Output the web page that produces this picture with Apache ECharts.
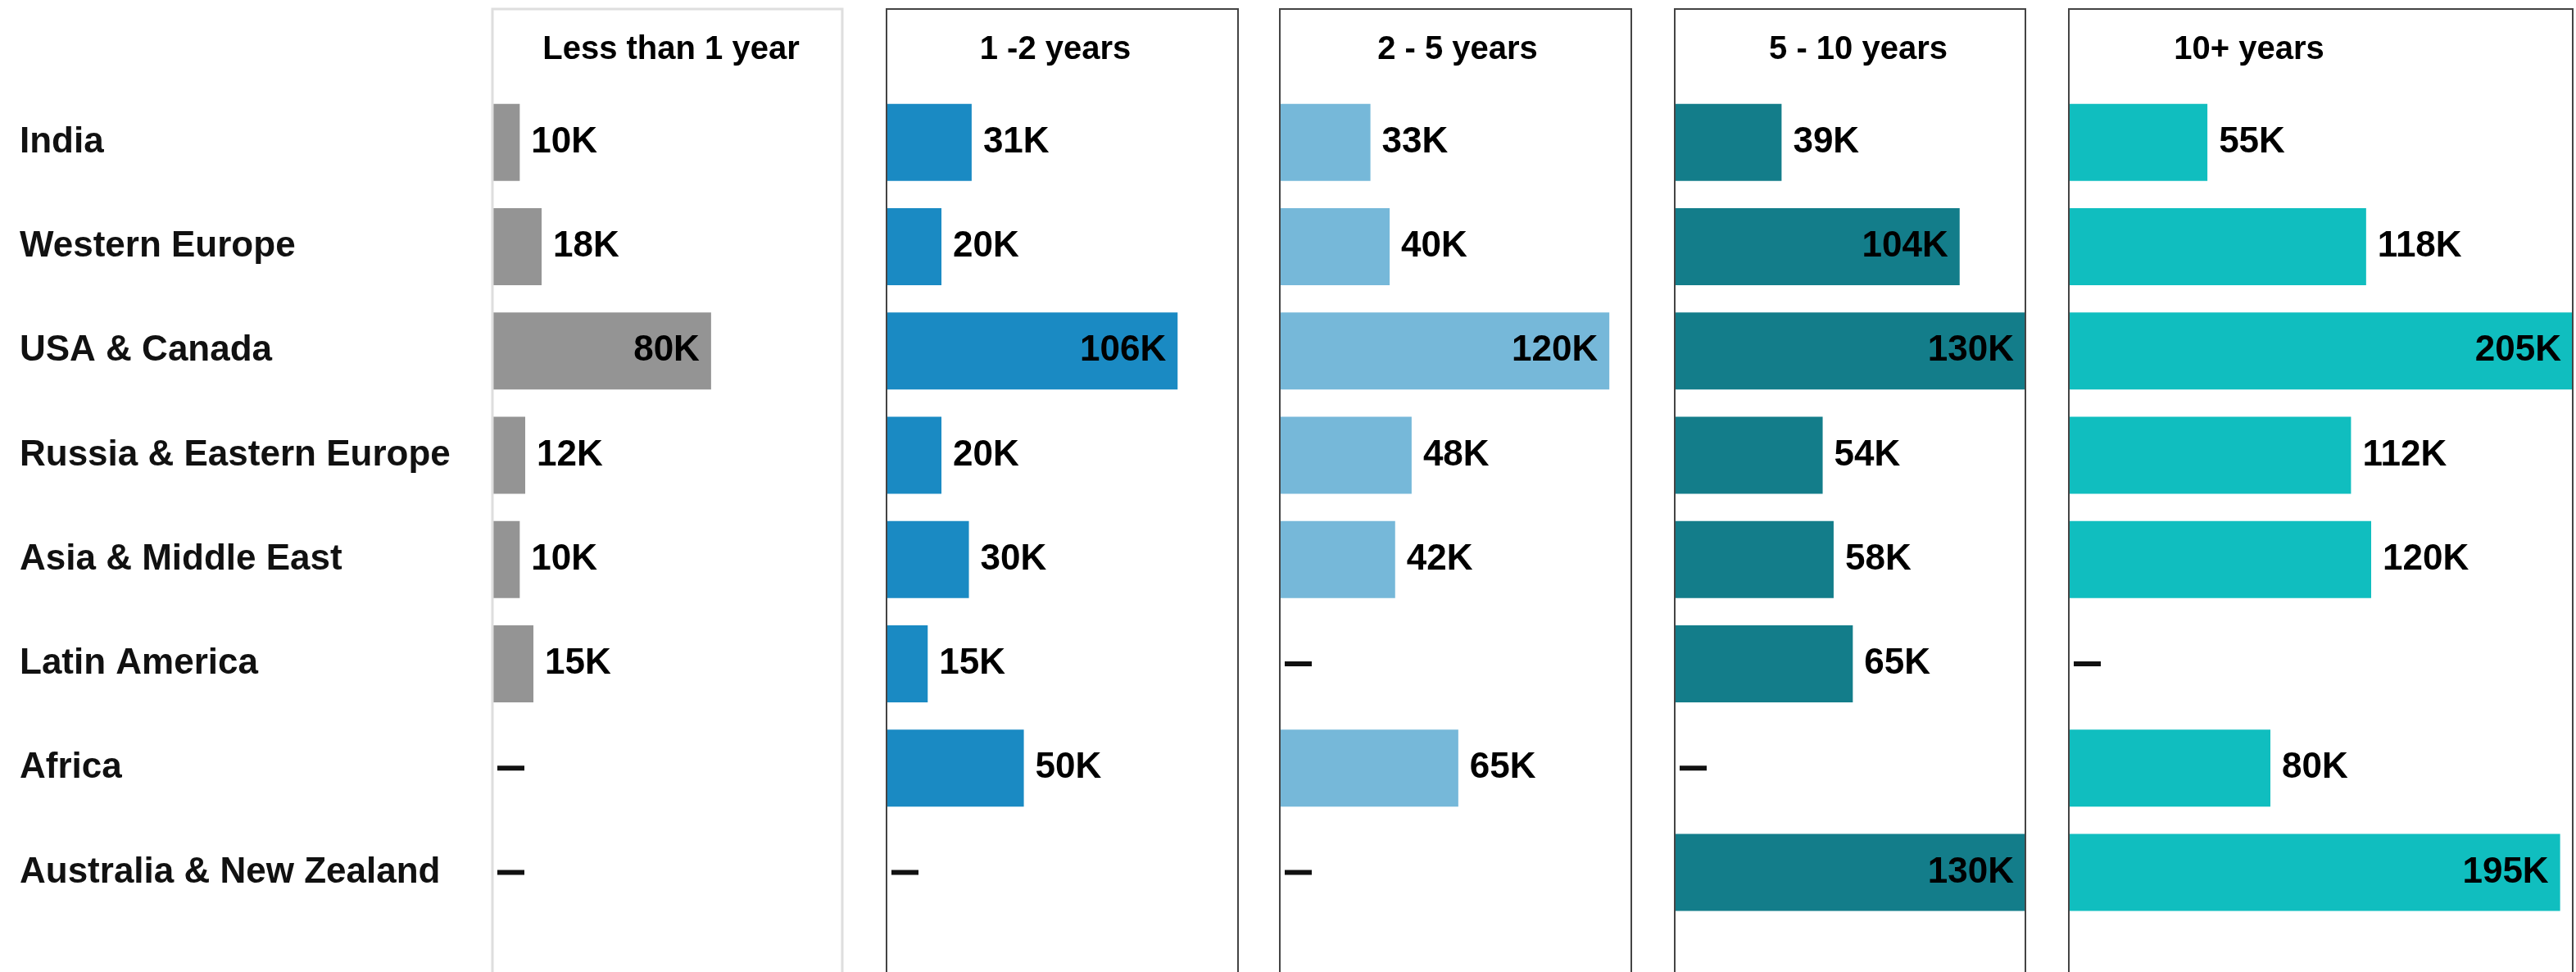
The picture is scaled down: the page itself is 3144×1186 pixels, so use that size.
<!DOCTYPE html>
<html>
<head>
<meta charset="utf-8">
<script src="https://cdn.jsdelivr.net/npm/echarts@6/dist/echarts.min.js"></script>
<style>
	html, body { margin: 0; padding: 0; background: #fff; }
	#chart { width: 3144px; height: 1186px; }
</style>
</head>
<body>
<div id="chart"></div>
<script>
	// regions, top to bottom
	const regions = ['India', 'Western Europe', 'USA & Canada', 'Russia & Eastern Europe',
		'Asia & Middle East', 'Latin America', 'Africa', 'Australia & New Zealand'];
	const panelTitles = ['Less than 1 year', '1 -2 years', '2 - 5 years', '5 - 10 years', '10+ years'];
	// values in thousands, null = no figure (shown as a dash)
	const lessThan1 = [10, 18, 80, 12, 10, 15, null, null];
	const years1to2 = [31, 20, 106, 20, 30, 15, 50, null];
	const years2to5 = [33, 40, 120, 48, 42, null, 65, null];
	const years5to10 = [39, 104, 130, 54, 58, 65, null, 130];
	const years10plus = [55, 118, 205, 112, 120, null, 80, 195];
	// axis max of each panel (thousands)
	const panelMax = [128, 128, 128, 128, 200];

	const seriesData = [lessThan1, years1to2, years2to5, years5to10, years10plus];
	const colors = ['#949494', '#1a8ac3', '#76b8d9', '#137d8a', '#10bebf'];
	const panels = [[601, 1028], [1082, 1511], [1562, 1991], [2044, 2472], [2525, 3140]];
	const titleX = [819, 1288, 1779, 2268, 2745];
	const font = '"Liberation Sans", Arial, Helvetica, sans-serif';

	const chart = echarts.init(document.getElementById('chart'));

	let grids = [], xAxes = [], yAxes = [], series = [], graphics = [];
	panels.forEach((p, i) => {
		grids.push({ left: p[0], width: p[1] - p[0], top: 110, height: 1018, outerBoundsMode: 'none' });
		xAxes.push({ type: 'value', gridIndex: i, min: 0, max: panelMax[i], show: false });
		yAxes.push({
			type: 'category', gridIndex: i, data: regions, inverse: true,
			axisLine: { show: false }, axisTick: { show: false }, splitLine: { show: false },
			axisLabel: {
				show: i === 0, align: 'left', margin: p[0] - 24,
				fontSize: 44, fontWeight: 'bold', color: '#111', fontFamily: font
			}
		});
		// missing values get a short dash, big bars get the label inside
		let data = seriesData[i].map(v => {
			if (v === null) {
				return {
					value: 0,
					label: { position: 'right', distance: 6, formatter: '{d|}' }
				};
			}
			let inside = v / panelMax[i] > 0.61;
			return { value: v, label: { position: inside ? 'insideRight' : 'right' } };
		});
		series.push({
			type: 'bar', xAxisIndex: i, yAxisIndex: i, barWidth: 94, clip: true,
			itemStyle: { color: colors[i] },
			label: {
				show: true, distance: 14, formatter: '{c}K',
				fontSize: 44, fontWeight: 'bold', color: '#000', fontFamily: font,
				rich: { d: { width: 33, height: 6, backgroundColor: '#111' } }
			},
			data: data
		});
		graphics.push({
			type: 'rect', z: 100, silent: true,
			shape: { x: p[0], y: 11, width: p[1] - p[0], height: 1250 },
			style: { fill: 'none', stroke: i === 0 ? '#dedede' : '#444', lineWidth: i === 0 ? 3 : 2 }
		});
		graphics.push({
			type: 'text', x: titleX[i], y: 61,
			style: {
				text: panelTitles[i], fontSize: 40, fontWeight: 'bold', fontFamily: font,
				fill: '#000', align: 'center', verticalAlign: 'middle'
			}
		});
	});

	chart.setOption({
		animation: false,
		grid: grids,
		xAxis: xAxes,
		yAxis: yAxes,
		series: series,
		graphic: graphics
	});
</script>
</body>
</html>
